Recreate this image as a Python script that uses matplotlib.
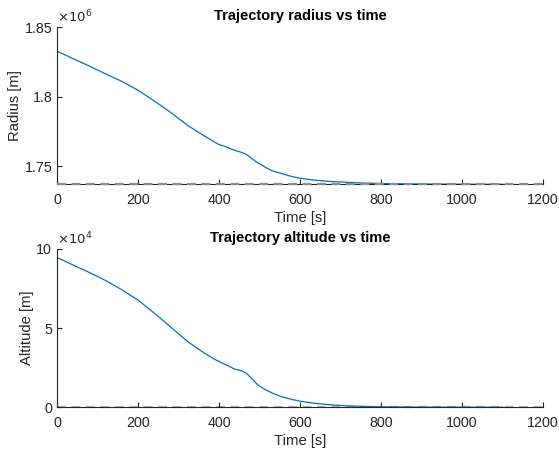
import matplotlib
matplotlib.use("Agg")
import matplotlib.pyplot as plt
from matplotlib.ticker import FuncFormatter

# values
time_r = [0, 35, 77, 118, 159, 200, 241, 282, 323, 365, 400, 414, 434, 459,
          468, 476, 492, 517, 533, 558, 579, 601, 640, 681, 747, 800, 900,
          1000, 1100]
radius = [1.83285e6, 1.82810e6, 1.82255e6, 1.81679e6, 1.81124e6, 1.80476e6,
          1.79683e6, 1.78847e6, 1.77932e6, 1.77161e6, 1.76563e6, 1.76441e6,
          1.76203e6, 1.75965e6, 1.75850e6, 1.75677e6, 1.75317e6, 1.74885e6,
          1.74660e6, 1.74452e6, 1.74270e6, 1.74135e6, 1.73991e6, 1.73897e6,
          1.73804e6, 1.73760e6, 1.73725e6, 1.73712e6, 1.73708e6]

time_a = [0, 35, 77, 118, 159, 200, 241, 282, 323, 365, 389, 418, 439, 455,
          468, 480, 496, 513, 533, 554, 579, 601, 636, 678, 710, 760, 800,
          900, 1000, 1100]
altitude = [9.46e4, 9.04e4, 8.55e4, 8.03e4, 7.44e4, 6.77e4, 5.93e4, 5.04e4,
            4.14e4, 3.40e4, 3.03e4, 2.67e4, 2.41e4, 2.31e4, 2.14e4, 1.83e4,
            1.41e4, 1.13e4, 0.88e4, 0.67e4, 0.50e4, 0.38e4, 0.25e4, 0.145e4,
            0.10e4, 0.05e4, 0.025e4, 0.005e4, 0.001e4, 0.0]

moon_radius = 1.737e6
x_ticks = [0, 200, 400, 600, 800, 1000, 1200]

plt.rcParams['font.family'] = ['Liberation Sans', 'DejaVu Sans']
blue = '#0072BD'
dark = '#262626'

fig = plt.figure(figsize=(5.59, 4.53), dpi=100)
ax1 = fig.add_axes([0.102, 0.593, 0.8694, 0.3466])
ax2 = fig.add_axes([0.102, 0.101, 0.8694, 0.3494])


def style(ax, yticks, scale, exp, ylim, ylabel, title):
    ax.set_xlim(0, 1200)
    ax.set_ylim(*ylim)
    ax.set_xticks(x_ticks)
    ax.set_yticks(yticks)
    ax.yaxis.set_major_formatter(FuncFormatter(lambda v, p: '%g' % round(v / scale, 4)))
    for s in ['top', 'right']:
        ax.spines[s].set_visible(False)
    for s in ['left', 'bottom']:
        ax.spines[s].set_color(dark)
        ax.spines[s].set_linewidth(0.8)
    ax.tick_params(direction='in', length=3.6, width=0.8, color=dark,
                   labelcolor=dark, labelsize=10.3)
    ax.tick_params(axis='x', pad=6)
    ax.tick_params(axis='y', pad=3.5)
    ax.set_xlabel('Time [s]', fontsize=10.7, color=dark, labelpad=3)
    ax.set_ylabel(ylabel, fontsize=10.7, color=dark, labelpad=1.5)
    ax.set_title(title, fontsize=10.5, fontweight='bold', pad=5)
    ax.text(0.0, 1.01, r'$\times10^{%d}$' % exp, transform=ax.transAxes,
            fontsize=9.5, color=dark, ha='left', va='bottom')


ax1.plot(time_r, radius, color=blue, lw=0.9)
ax1.axhline(moon_radius, color='#8c8c8c', lw=1.6, ls=(0, (4, 2.5)), zorder=3, clip_on=False)
style(ax1, [1.75e6, 1.8e6, 1.85e6], 1e6, 6, (moon_radius, 1.85e6),
      'Radius [m]', 'Trajectory radius vs time')

ax2.plot(time_a, altitude, color=blue, lw=0.9)
ax2.axhline(0, color='#b0b0b0', lw=1.6, ls=(0, (4, 2.5)), zorder=1, clip_on=False)
style(ax2, [0, 5e4, 10e4], 1e4, 4, (0, 10e4),
      'Altitude [m]', 'Trajectory altitude vs time')

fig.savefig('out.png', dpi=100)
